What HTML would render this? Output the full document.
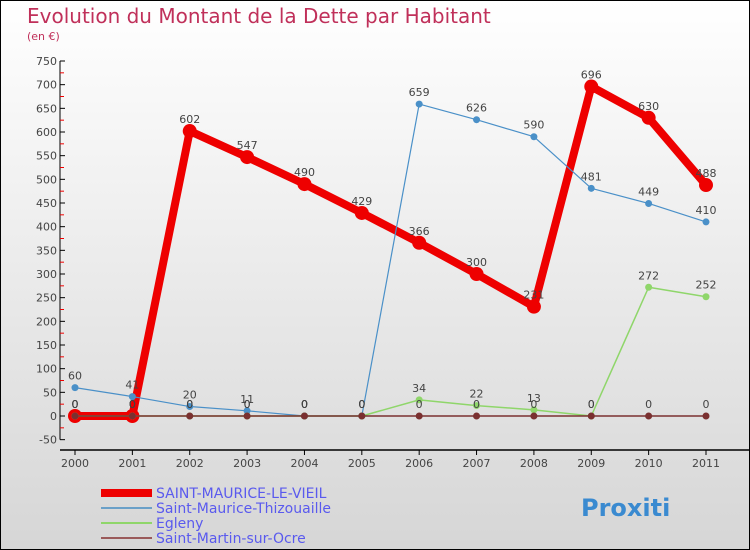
<!DOCTYPE html>
<html><head><meta charset="utf-8"><style>
body{margin:0;background:#fff}
#wrap{position:relative;width:748px;height:548px;border:1px solid #000;background:linear-gradient(#fff,#d6d6d6);font-family:"DejaVu Sans","Liberation Sans",sans-serif;overflow:hidden}
svg{position:absolute;left:0;top:0}
</style></head><body>
<div id="wrap">
<svg id="c" width="748" height="548">
<text x="26" y="22" font-size="20" fill="#c0305a">Evolution du Montant de la Dette par Habitant</text>
<text x="26" y="39" font-size="11" fill="#c0305a">(en €)</text>
</svg>
</div>
<script>
const years=[2000,2001,2002,2003,2004,2005,2006,2007,2008,2009,2010,2011];
const yTicks=[-50,0,50,100,150,200,250,300,350,400,450,500,550,600,650,700,750];
const redVals=[0,0,602,547,490,429,366,300,231,696,630,488];
const blueVals=[60,41,20,11,0,0,659,626,590,481,449,410];
const greenVals=[0,0,0,0,0,0,34,22,13,0,272,252];
const brownVals=[0,0,0,0,0,0,0,0,0,0,0,0];
const names=["SAINT-MAURICE-LE-VIEIL","Saint-Maurice-Thizouaille","Egleny","Saint-Martin-sur-Ocre"];
const svg=document.getElementById('c');const NS='http://www.w3.org/2000/svg';
function X(i){return 74+i*(631/(years.length-1));}
function Y(v){return 415-v*(355/750);}
function el(t,a,p){const e=document.createElementNS(NS,t);for(const k in a)e.setAttribute(k,a[k]);(p||svg).appendChild(e);return e;}
// axes
let a=el('line',{x1:59,y1:Y(750),x2:59,y2:Y(-50),stroke:'#000'});


a=el('line',{x1:59,y1:449,x2:748,y2:449,stroke:'#000','stroke-width':1.5});


yTicks.forEach(v=>{
 el('line',{x1:59,y1:Y(v),x2:64,y2:Y(v),stroke:'#000'});
 if(v<750)el('line',{x1:59,y1:Y(v+25),x2:63,y2:Y(v+25),stroke:'#e00'});
 const t=el('text',{x:56,y:Y(v)+4,'font-size':11,fill:'#444','text-anchor':'end'});
 t.textContent=v;
 
 
});
years.forEach((y,i)=>{
 el('line',{x1:X(i),y1:449,x2:X(i),y2:454,stroke:'#000'});
 const t=el('text',{x:X(i),y:466,'font-size':11,fill:'#444','text-anchor':'middle'});
 t.textContent=y;
 
 
});
function series(vals,color,w,r,name){
 const g=el('g',{});
 
 
 el('polyline',{points:vals.map((v,i)=>X(i)+','+Y(v)).join(' '),fill:'none',stroke:color,'stroke-width':w,'stroke-linejoin':'round'},g);
 vals.forEach((v,i)=>{
  const c=el('circle',{cx:X(i),cy:Y(v),r:r,fill:color},g);
  
  
  const t=el('text',{x:X(i),y:Y(v)-8,'font-size':11,fill:'#444','text-anchor':'middle'},g);
  t.textContent=v;
  
  
 });
}
series(redVals,'#e00',8,7,'series-saint-maurice-le-vieil');
series(blueVals,'#4a90c8',1.2,3.5,'series-saint-maurice-thizouaille');
series(greenVals,'#8fd66a',1.5,3.5,'series-egleny');
series(brownVals,'#7a3030',1.5,3.5,'series-saint-martin-sur-ocre');
const lc=['#e00','#6aa0c8','#8fd66a','#9a5a5a'],lw=[8,2,2,2];
names.forEach((n,i)=>{
 const y=492+i*15;
 const l=el('line',{x1:100,y1:y,x2:151,y2:y,stroke:lc[i],'stroke-width':lw[i]});
 
 
 const t=el('text',{x:155,y:y+5,'font-size':14,fill:'#5a5aee'});
 t.textContent=n;
 
 
});
const lg=el('text',{x:580,y:515,'font-size':24,'font-weight':'bold',fill:'#3a8ad0'});
lg.textContent='Proxiti';


</script>
</body></html>
